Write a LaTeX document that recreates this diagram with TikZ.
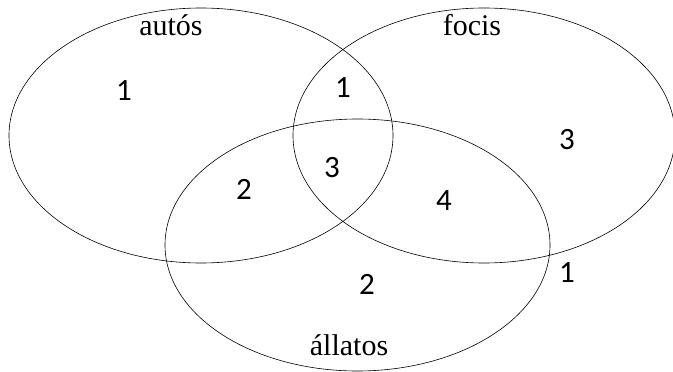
\documentclass[tikz,border=0pt]{standalone}
\usepackage{fontspec}
\setmainfont{Liberation Serif}
\newfontfamily\numfont{Carlito}
\usepackage{tikz}

\begin{document}
\begin{tikzpicture}[
  x=1pt, y=-1pt,
  set/.style={draw, line width=0.6pt},
  setname/.style={anchor=base, inner sep=0pt, font=\fontsize{30}{32}\selectfont},
  count/.style={inner sep=0pt, font=\numfont\fontsize{31}{32}\selectfont},
]
\useasboundingbox (0,0) rectangle (673,372);

% the three sets
\draw[set] (201,135.5) ellipse (192 and 127.5);
\draw[set] (484,135.5) ellipse (191 and 127.5);
\draw[set] (357.5,245) ellipse (192.5 and 126);

% set names
\node[setname] (autos) at (171,35) {autós};
\node[setname] (focis) at (472,35) {focis};
\node[setname] (allatos) at (349,355) {állatos};

% counts in the regions
\node[count] (nA) at (124,91) {1};
\node[count] (nAF) at (343,88) {1};
\node[count] (nF) at (567,140) {3};
\node[count] (nAL) at (244,189) {2};
\node[count] (nAFL) at (332,168) {3};
\node[count] (nFL) at (444,201) {4};
\node[count] (nL) at (367,284) {2};
\node[count] (nout) at (567,273) {1};
\end{tikzpicture}
\end{document}
